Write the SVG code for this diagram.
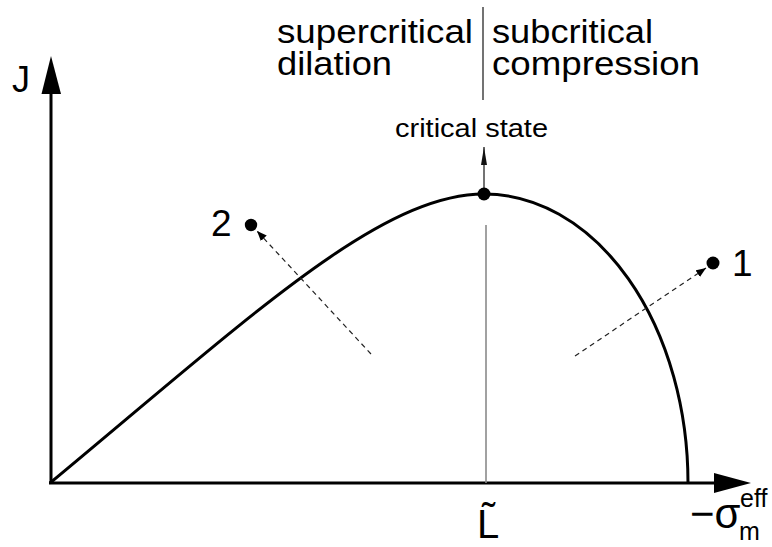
<svg xmlns="http://www.w3.org/2000/svg" width="772" height="547" viewBox="0 0 772 547">
<style>
text{font-family:"Liberation Sans",Arial,sans-serif;fill:#000}
.big{font-size:33px}
.axis{stroke:#000;stroke-width:3;fill:none}
.curve{stroke:#000;stroke-width:3;fill:none}
.dash{stroke:#222;stroke-width:1.2;stroke-dasharray:5,4;fill:none}
.thin{stroke:#444;stroke-width:1.5;fill:none}
.grey{stroke:#8a8a8a;stroke-width:1.6;fill:none}
.dot{fill:#000}
</style>
<defs>
<marker id="ah" markerUnits="userSpaceOnUse" markerWidth="12" markerHeight="10" refX="10" refY="4" orient="auto">
<path d="M0,0 L10,4 L0,8 Z" fill="#000"/>
</marker>
<marker id="ahc" markerUnits="userSpaceOnUse" markerWidth="20" markerHeight="10" refX="18" refY="4" orient="auto">
<path d="M0,1 L18,4 L0,7 Z" fill="#111"/>
</marker>
</defs>
<g id="axes">
<line class="axis" x1="51" y1="484" x2="51" y2="92"/>
<polygon points="51,56 41.5,94 61,94" fill="#000"/>
<line class="axis" x1="49" y1="483" x2="716" y2="483"/>
<polygon points="751,483 714,473 714,493" fill="#000"/>
<text id="lblJ" x="12" y="92" style="font-size:36px">J</text>
<text id="lblL" x="477" y="538" style="font-size:40px">L̃</text>
<text id="lblSigma" x="690" y="528" style="font-size:42px">−σ</text>
<text id="lblEff" x="740" y="507" style="font-size:25px">eff</text>
<text id="lblM" x="739" y="540" style="font-size:25px">m</text>
</g>
<g id="curve">
<path class="curve" d="M50,483 C250,317 380,194 484,194 A204,289 0 0 1 688,483"/>
</g>
<g id="regions">
<line class="thin" x1="483" y1="7" x2="483" y2="100"/>
<text id="lblSuper1" class="big" x="277" y="43" textLength="196" lengthAdjust="spacingAndGlyphs">supercritical</text>
<text id="lblSuper2" class="big" x="277" y="75" textLength="115" lengthAdjust="spacingAndGlyphs">dilation</text>
<text id="lblSub1" class="big" x="492" y="43" textLength="161" lengthAdjust="spacingAndGlyphs">subcritical</text>
<text id="lblSub2" class="big" x="492" y="75" textLength="208" lengthAdjust="spacingAndGlyphs">compression</text>
</g>
<g id="connectors">
<line class="grey" x1="486" y1="225" x2="486" y2="483"/>
<line class="thin" x1="484" y1="192" x2="484" y2="147" marker-end="url(#ahc)"/>
<line class="dash" x1="371" y1="354" x2="257" y2="231" marker-end="url(#ah)"/>
<line class="dash" x1="575" y1="356" x2="706" y2="268" marker-end="url(#ah)"/>
</g>
<g id="critical">
<circle class="dot" cx="484" cy="194" r="6.5"/>
<text id="lblCritical" x="395" y="137" style="font-size:25px" textLength="153" lengthAdjust="spacingAndGlyphs">critical state</text>
</g>
<g id="point2">
<circle class="dot" cx="251" cy="225" r="6.2"/>
<text x="211" y="236" style="font-size:37px">2</text>
</g>
<g id="point1">
<circle class="dot" cx="713" cy="263" r="6.5"/>
<text x="732" y="276" style="font-size:37px">1</text>
</g>
</svg>
